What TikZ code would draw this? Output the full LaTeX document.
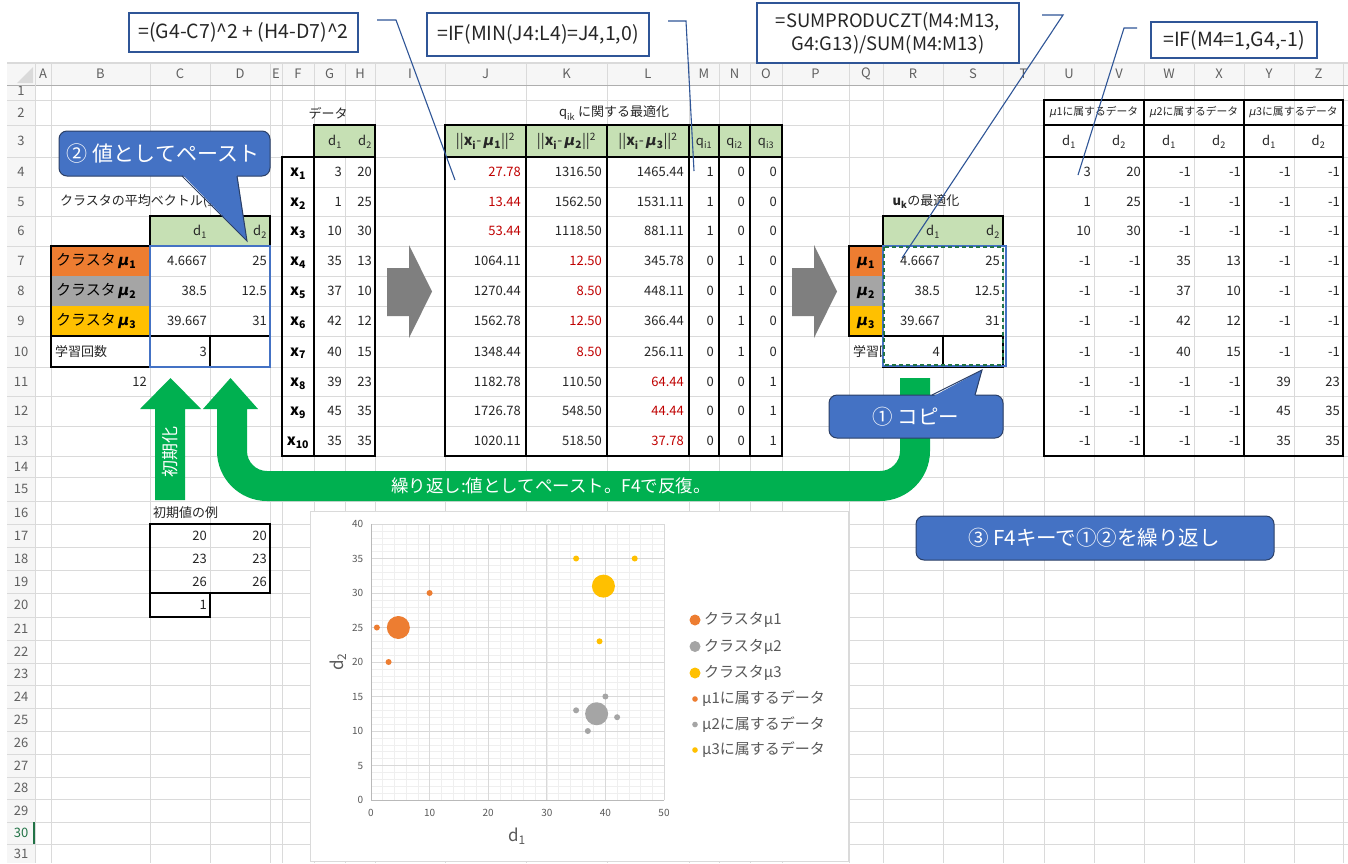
\documentclass[tikz,border=0pt]{standalone}
\usepackage{fontspec}
\setmainfont{Noto Sans CJK JP}
\newfontfamily\dejavu{DejaVu Sans}
\usetikzlibrary{calc}
\definecolor{gridc}{HTML}{DADADA}
\definecolor{hdrbg}{HTML}{F6F6F6}
\definecolor{hdrtxt}{HTML}{606060}
\definecolor{hgreen}{HTML}{C6E0B4}
\definecolor{corange}{HTML}{ED7D31}
\definecolor{cgray}{HTML}{A5A5A5}
\definecolor{cgold}{HTML}{FFC000}
\definecolor{mred}{HTML}{C00000}
\definecolor{txt}{HTML}{262626}
\definecolor{cblue}{HTML}{4472C4}
\definecolor{cbluedk}{HTML}{2B3F66}
\definecolor{lineblue}{HTML}{2F5597}
\definecolor{agreen}{HTML}{00B050}
\definecolor{agray}{HTML}{7F7F7F}
\definecolor{chminor}{HTML}{EFEFEF}
\definecolor{chmajor}{HTML}{D9D9D9}
\definecolor{chtxt}{HTML}{595959}
\definecolor{selgreen}{HTML}{217346}
\newcommand\bmu{{\dejavu\bfseries\itshape μ}}
\newcommand\imu{{\dejavu\itshape μ}}
\newcommand\mysub[1]{\textsubscript{#1}}
\begin{document}
\begin{tikzpicture}[x=1pt,y=-1pt,
 every node/.style={inner sep=0pt, text=txt},
 cell/.style={font=\fontsize{13}{15}\selectfont},
 num/.style={cell, anchor=east, text height=9.5pt, text depth=0pt},
 ctr/.style={cell, text height=9.5pt, text depth=0pt},
 bk/.style={draw=black, line width=1.1pt},
 gridln/.style={draw=gridc, line width=0.8pt},
 hdr/.style={font=\fontsize{13}{15}\selectfont, text=hdrtxt},
 fbox/.style={draw=lineblue, line width=1.2pt, fill=white, font=\fontsize{19.5}{23}\selectfont, align=center},
 conn/.style={draw=lineblue, line width=1.1pt},
 callout/.style={fill=cblue, draw=cbluedk, line width=1pt},
 ctext/.style={text=white, font=\fontsize{20.5}{24}\selectfont},
 chtick/.style={text=chtxt, font=\fontsize{10}{12}\selectfont},
 legtxt/.style={text=chtxt, font=\fontsize{15}{17}\selectfont, anchor=west},
 selbox/.style={draw=cblue, line width=1.6pt}
]
\useasboundingbox (0,0) rectangle (1348,863);
\fill[white] (0,0) rectangle (1348,863);
% ---------- sheet grid ----------
\fill[hdrbg] (7,85) rectangle (35,863);
\foreach \xx in {35,51,150,210,270,282,314,345,375,445,526,607,689,719,750,782,849,883,943,1003,1044,1094,1144,1194,1244,1294,1343}
  \draw[gridln] (\xx,85) -- (\xx,863);
\foreach \yy in {100,125,157,187,216,246,276,306,336,367,396,426,456,477,501,524,547,570,593,617,640,663,685,708,731,754,777,799,822,844}
  \draw[gridln] (7,\yy) -- (1348,\yy);
\foreach \n/\cy in {1/91,2/112.5,3/141,4/172,5/201.5,6/231,7/261,8/291,9/321,10/351.5,11/381.5,12/411,13/441,14/466.5,15/489,16/512.5,17/535.5,18/558.5,19/581.5,20/605,21/628.5,22/651.5,23/674,24/696.5,25/719.5,26/742.5,27/765.5,28/788,29/810.5,31/853.5}
  \node[hdr] (row\n) at (21,\cy) {\n};
\node[hdr, text=selgreen] (row30) at (21,833) {30};
\fill[selgreen] (33,822) rectangle (35.5,844);
\fill[hdrbg] (7,63) rectangle (1348,85);
\draw[draw=gridc, line width=1.5pt] (7,63) -- (1348,63);
\draw[draw=gridc!80!black, line width=1pt] (7,85) -- (1348,85);
\draw[gridln] (35,63) -- (35,863);
\foreach \xx in {51,150,210,270,282,314,345,375,445,526,607,689,719,750,782,849,883,943,1003,1044,1094,1144,1194,1244,1294,1343}
  \draw[gridln] (\xx,63) -- (\xx,85);
\fill[gridc] (33,67) -- (33,83) -- (17,83) -- cycle;
\foreach \n/\cx in {A/43,B/100.5,C/180,D/240,E/276,F/298,G/329.5,H/360,I/410,J/485.5,K/566.5,L/648,M/704,N/734.5,O/766,P/815.5,Q/866,R/913,S/973,T/1023.5,U/1069,V/1119,W/1169,X/1219,Y/1269,Z/1318.5}
  \node[hdr] (col\n) at (\cx,74) {\n};
% ---------- left: cluster means ----------
\node[cell, anchor=west] (tavg) at (60,201.5) {クラスタの平均ベクトル(重心)};
\fill[hgreen] (150,216) rectangle (270,246);
\draw[bk] (150,216) rectangle (270,246);
\node[num] (c6) at (207,231) {d\mysub{1}};
\node[num] (d6) at (267,231) {d\mysub{2}};
\fill[corange] (51,246) rectangle (150,276);
\fill[cgray] (51,276) rectangle (150,306);
\fill[cgold] (51,306) rectangle (150,336);
\draw[bk] (51,246) rectangle (150,336);
\draw[bk] (51,336) rectangle (150,367);
\draw[bk] (150,336) rectangle (210,367);
\draw[bk] (210,336) rectangle (270,367);
\foreach \k/\cy in {1/261,2/291,3/321}
  \node[cell, anchor=west, font=\fontsize{15}{17}\selectfont, text=black] (b\k) at (56,\cy) {クラスタ\,\bmu\mysub{\bfseries\k}};
\foreach \cy/\va/\vb [count=\i] in {261/4.6667/25, 291/38.5/12.5, 321/39.667/31}{
  \node[num] (lc\i) at (207,\cy) {\va};
  \node[num] (ld\i) at (267,\cy) {\vb};
}
\node[cell, anchor=west] (b10) at (55,351.5) {学習回数};
\node[num] (c10) at (207,351.5) {3};
\draw[selbox] (150,246) rectangle (270,367);
\node[num] (b11) at (147,381.5) {12};
% initial values
\node[cell, anchor=west] (tinit) at (153,512.5) {初期値の例};
\draw[bk] (150,524) rectangle (270,593);
\draw[bk] (150,593) rectangle (210,617);
\foreach \cy/\va [count=\i] in {535.5/20, 558.5/23, 581.5/26}{
  \node[num] (ic\i) at (207,\cy) {\va};
  \node[num] (id\i) at (267,\cy) {\va};
}
\node[num] (ic4) at (207,605) {1};
% ---------- data ----------
\node[cell] (tdata) at (328,113) {データ};
\fill[hgreen] (314,125) rectangle (375,157);
\draw[bk] (314,125) rectangle (375,157);
\node[num] (g3) at (342,141) {d\mysub{1}};
\node[num] (h3) at (372,141) {d\mysub{2}};
\draw[bk] (282,157) rectangle (314,456);
\draw[bk] (314,157) rectangle (375,456);
\foreach \cy/\va/\vb [count=\i] in {172/3/20, 201.5/1/25, 231/10/30, 261/35/13, 291/37/10, 321/42/12, 351.5/40/15, 381.5/39/23, 411/45/35, 441/35/35}{
  \node[ctr, font=\fontsize{15}{17}\selectfont\bfseries, text=black] (xl\i) at (298,\cy) {x\mysub{\i}};
  \node[num] (g\i) at (342,\cy) {\va};
  \node[num] (h\i) at (372,\cy) {\vb};
}
% ---------- q_ik ----------
\node[cell] (tq) at (614,113) {q\mysub{ik} に関する最適化};
\fill[hgreen] (445,125) rectangle (782,157);
\draw[bk] (445,125) rectangle (782,456);
\draw[bk] (445,157) -- (782,157);
\foreach \xx in {526,607,689,719,750} \draw[bk] (\xx,125) -- (\xx,456);
\foreach \k/\cx in {1/485.5,2/566.5,3/648}
  \node[ctr, font=\fontsize{14.5}{16}\selectfont] (hq\k) at (\cx,141) {||\textbf{x}\mysub{\bfseries i}-\,\bmu\mysub{\bfseries\k}||\textsuperscript{2}};
\foreach \k/\cx in {1/704,2/734.5,3/766}
  \node[ctr] (hqq\k) at (\cx,141) {q\mysub{i\k}};
\foreach \cy/\va/\vb/\vc/\ca/\cb/\cc/\qa/\qb/\qc [count=\i] in {
 172/27.78/1316.50/1465.44/mred/txt/txt/1/0/0,
 201.5/13.44/1562.50/1531.11/mred/txt/txt/1/0/0,
 231/53.44/1118.50/881.11/mred/txt/txt/1/0/0,
 261/1064.11/12.50/345.78/txt/mred/txt/0/1/0,
 291/1270.44/8.50/448.11/txt/mred/txt/0/1/0,
 321/1562.78/12.50/366.44/txt/mred/txt/0/1/0,
 351.5/1348.44/8.50/256.11/txt/mred/txt/0/1/0,
 381.5/1182.78/110.50/64.44/txt/txt/mred/0/0/1,
 411/1726.78/548.50/44.44/txt/txt/mred/0/0/1,
 441/1020.11/518.50/37.78/txt/txt/mred/0/0/1}{
  \node[num, text=\ca] (qj\i) at (521,\cy) {\va};
  \node[num, text=\cb] (qk\i) at (602,\cy) {\vb};
  \node[num, text=\cc] (ql\i) at (684,\cy) {\vc};
  \node[num] (qm\i) at (714,\cy) {\qa};
  \node[num] (qn\i) at (745,\cy) {\qb};
  \node[num] (qo\i) at (777,\cy) {\qc};
}
% ---------- gray arrows ----------
\fill[agray] (387,268) -- (409,268) -- (409,245) -- (432,291.5) -- (409,338) -- (409,316) -- (387,316) -- cycle;
\fill[agray] (792,268) -- (814,268) -- (814,245) -- (837,291.5) -- (814,338) -- (814,316) -- (792,316) -- cycle;
% ---------- u_k ----------
\node[cell] (tu) at (926,201.5) {\textbf{u}\mysub{\bfseries k}の最適化};
\fill[hgreen] (883,216) rectangle (1003,246);
\draw[bk] (883,216) rectangle (1003,246);
\node[num] (r6) at (940,231) {d\mysub{1}};
\node[num] (s6) at (1000,231) {d\mysub{2}};
\fill[corange] (849,246) rectangle (883,276);
\fill[cgray] (849,276) rectangle (883,306);
\fill[cgold] (849,306) rectangle (883,336);
\draw[bk] (849,246) rectangle (883,336);
\foreach \k/\cy in {1/261,2/291,3/321}
  \node[ctr, font=\fontsize{15}{17}\selectfont, text=black] (q\k) at (866,\cy) {\bmu\mysub{\bfseries\k}};
\foreach \cy/\va/\vb [count=\i] in {261/4.6667/25, 291/38.5/12.5, 321/39.667/31}{
  \node[num] (rr\i) at (940,\cy) {\va};
  \node[num] (rs\i) at (1000,\cy) {\vb};
}
\begin{scope}
  \clip (849,336) rectangle (883,367);
  \node[cell, anchor=west] (q10) at (853,351.5) {学習回数};
\end{scope}
\draw[bk] (883,336) rectangle (943,367);
\draw[bk] (943,336) rectangle (1003,367);
\node[num] (r10) at (940,351.5) {4};
\draw[selbox] (883,246) rectangle (1006,366);
\draw[draw=selgreen, line width=1.3pt, dash pattern=on 4pt off 3pt] (884,247) rectangle (1003,365);
% ---------- right table ----------
\draw[bk] (1044,100) rectangle (1343,456);
\draw[bk] (1044,125) -- (1343,125);
\draw[bk] (1044,157) -- (1343,157);
\draw[bk] (1144,100) -- (1144,456);
\draw[bk] (1244,100) -- (1244,456);
\foreach \k/\cx in {1/1094,2/1194,3/1293.5}
  \node[cell, font=\fontsize{10.8}{12}\selectfont] (gh\k) at (\cx,112.5) {\imu\k に属するデータ};
\foreach \k/\cx/\s in {1/1069/1,2/1119/2,3/1169/1,4/1219/2,5/1269/1,6/1318.5/2}
  \node[ctr] (dh\k) at (\cx,141) {d\mysub{\s}};
\foreach \cy/\pa/\pb/\pc/\pd/\pe/\pf [count=\i] in {
 172/3/20/-1/-1/-1/-1, 201.5/1/25/-1/-1/-1/-1, 231/10/30/-1/-1/-1/-1,
 261/-1/-1/35/13/-1/-1, 291/-1/-1/37/10/-1/-1, 321/-1/-1/42/12/-1/-1,
 351.5/-1/-1/40/15/-1/-1, 381.5/-1/-1/-1/-1/39/23, 411/-1/-1/-1/-1/45/35,
 441/-1/-1/-1/-1/35/35}{
  \node[num] (ru\i) at (1091,\cy) {\pa};
  \node[num] (rv\i) at (1141,\cy) {\pb};
  \node[num] (rw\i) at (1191,\cy) {\pc};
  \node[num] (rx\i) at (1241,\cy) {\pd};
  \node[num] (ry\i) at (1291,\cy) {\pe};
  \node[num] (rz\i) at (1340,\cy) {\pf};
}
% ---------- green arrows ----------
\fill[agreen] (170.5,378) -- (201,409) -- (185,409) -- (185,500) -- (155,500) -- (155,409) -- (140,409) -- cycle;
\node[rotate=90, text=white, font=\fontsize{17}{20}\selectfont] (tinit2) at (170,452) {初期化};
\fill[agreen] (230.5,378) -- (258,409) -- (247,409) -- (247,451)
  .. controls (247,462) and (256,471) .. (267,471) -- (880,471)
  .. controls (891,471) and (900,462) .. (900,451) -- (900,378) -- (930,378) -- (930,451)
  .. controls (930,478.6) and (907.4,501) .. (880,501) -- (267,501)
  .. controls (239.4,501) and (217,478.6) .. (217,451) -- (217,409) -- (203,409) -- cycle;
\node[text=white, font=\fontsize{17.5}{20}\selectfont] (trep) at (551,486) {繰り返し:値としてペースト。F4で反復。};
% ---------- chart ----------
\draw[draw=gridc, fill=white, line width=0.8pt] (310,511) rectangle (848,861);
\begin{scope}[shift={(371pt,-800pt)}, x=5.86pt, y=6.9pt]
  \foreach \i in {2,4,...,48} \draw[draw=chminor, line width=0.6pt] (\i,0) -- (\i,40);
  \foreach \j in {1,...,39} \draw[draw=chminor, line width=0.6pt] (0,\j) -- (50,\j);
  \foreach \i in {10,20,...,50} \draw[draw=chmajor, line width=0.8pt] (\i,0) -- (\i,40);
  \foreach \j in {5,10,...,40} \draw[draw=chmajor, line width=0.8pt] (0,\j) -- (50,\j);
  \draw[draw=gridc!85!black, line width=0.8pt] (0,0) -- (50,0);
  \draw[draw=gridc!85!black, line width=0.8pt] (0,0) -- (0,40);
  \foreach \i in {0,10,...,50} \node[chtick] (xt\i) at (\i,-1.9) {\i};
  \foreach \j in {0,5,...,40} \node[chtick, anchor=east] (yt\j) at (-1.3,\j) {\j};
  \fill[corange] (4.6667,25) circle[radius=11.5pt];
  \fill[cgray] (38.5,12.5) circle[radius=11.5pt];
  \fill[cgold] (39.667,31) circle[radius=11.5pt];
  \foreach \px/\py in {3/20,1/25,10/30} \fill[corange] (\px,\py) circle[radius=3pt];
  \foreach \px/\py in {35/13,37/10,42/12,40/15} \fill[cgray] (\px,\py) circle[radius=3pt];
  \foreach \px/\py in {39/23,45/35,35/35} \fill[cgold] (\px,\py) circle[radius=3pt];
\end{scope}
\node[text=chtxt, font=\fontsize{17}{20}\selectfont] (ax1) at (517,836) {d\mysub{1}};
\node[text=chtxt, font=\fontsize{17}{20}\selectfont, rotate=90] (ax2) at (338,662) {d\mysub{2}};
\fill[corange] (695,620) circle[radius=5.5pt];
\fill[cgray] (695,646.5) circle[radius=5.5pt];
\fill[cgold] (695,673) circle[radius=5.5pt];
\fill[corange] (695,699) circle[radius=2.8pt];
\fill[cgray] (695,724.5) circle[radius=2.8pt];
\fill[cgold] (695,750) circle[radius=2.8pt];
\node[legtxt] (lg1) at (704,620) {クラスタμ1};
\node[legtxt] (lg2) at (704,646.5) {クラスタμ2};
\node[legtxt] (lg3) at (704,673) {クラスタμ3};
\node[legtxt] (lg4) at (702,699) {μ1に属するデータ};
\node[legtxt] (lg5) at (702,724.5) {μ2に属するデータ};
\node[legtxt] (lg6) at (702,750) {μ3に属するデータ};
% ---------- callouts ----------
\draw[callout, rounded corners=8pt] (59,131) rectangle (270,176);
\fill[cblue] (182,174) -- (247,241) -- (237,174) -- cycle;
\draw[draw=cbluedk, line width=1pt] (182,176) -- (247,241) -- (237,176);
\node[ctext, font=\fontsize{21}{25}\selectfont] (co2) at (163,153.5) {② 値としてペースト};
\draw[callout, rounded corners=8pt] (829,395) rectangle (1003,438);
\fill[cblue] (932,397) -- (982,370) -- (975,397) -- cycle;
\draw[draw=cbluedk, line width=1pt] (932,395) -- (982,370) -- (975,395);
\node[ctext] (co1) at (916,416.5) {① コピー};
\draw[callout, rounded corners=8pt] (916,516) rectangle (1274,560);
\node[ctext] (co3) at (1094,538) {③ F4キーで①②を繰り返し};
% ---------- formula boxes ----------
\node[fbox, minimum width=229pt, minimum height=39pt] (f1) at (243.5,32.5) {=(G4-C7)\textasciicircum2 + (H4-D7)\textasciicircum2};
\node[fbox, minimum width=222pt, minimum height=43pt] (f2) at (538,34.5) {=IF(MIN(J4:L4)=J4,1,0)};
\node[fbox, minimum width=262pt, minimum height=60pt, font=\fontsize{18.5}{23}\selectfont] (f3) at (888,33) {=SUMPRODUCZT(M4:M13,\\G4:G13)/SUM(M4:M13)};
\node[fbox, minimum width=166pt, minimum height=36pt] (f4) at (1234,40) {=IF(M4=1,G4,-1)};
\coordinate (k1a) at (377,20); \coordinate (k1b) at (396,20); \coordinate (k1c) at (455,180);
\coordinate (k2a) at (668,21); \coordinate (k2b) at (686,21); \coordinate (k2c) at (694,171);
\coordinate (k3a) at (1042,15); \coordinate (k3b) at (1063,15); \coordinate (k3c) at (902,258);
\coordinate (k4a) at (1137,28); \coordinate (k4b) at (1124,28); \coordinate (k4c) at (1078,175);
\draw[conn] (k1a) -- (k1b) -- (k1c);
\draw[conn] (k2a) -- (k2b) -- (k2c);
\draw[conn] (k3a) -- (k3b) -- (k3c);
\draw[conn] (k4a) -- (k4b) -- (k4c);
\end{tikzpicture}
\end{document}
